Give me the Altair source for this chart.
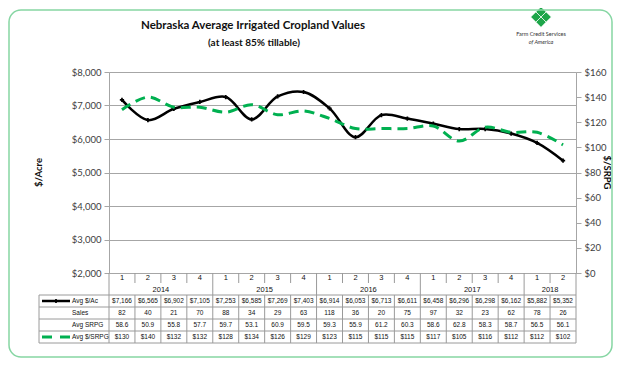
import altair as alt
import pandas as pd

# ---- data ----
years = [2014, 2014, 2014, 2014, 2015, 2015, 2015, 2015, 2016, 2016, 2016, 2016,
         2017, 2017, 2017, 2017, 2018, 2018]
quarters = [1, 2, 3, 4, 1, 2, 3, 4, 1, 2, 3, 4, 1, 2, 3, 4, 1, 2]
avg_ac = [7166, 6565, 6902, 7105, 7253, 6585, 7269, 7403, 6914, 6053, 6713, 6611,
          6458, 6296, 6298, 6162, 5882, 5352]
sales = [82, 40, 21, 70, 88, 34, 29, 63, 118, 36, 20, 75, 97, 32, 23, 62, 78, 26]
avg_srpg = [58.6, 50.9, 55.8, 57.7, 59.7, 53.1, 60.9, 59.5, 59.3, 55.9, 61.2, 60.3,
            58.6, 62.8, 58.3, 58.7, 56.5, 56.1]
per_srpg = [130, 140, 132, 132, 128, 134, 126, 129, 123, 115, 115, 115,
            117, 105, 116, 112, 112, 102]
left_ticks = [2000, 3000, 4000, 5000, 6000, 7000, 8000]
right_ticks = [0, 20, 40, 60, 80, 100, 120, 140, 160]
row_labels = ["Avg $/Ac", "Sales", "Avg SRPG", "Avg $/SRPG"]
title_text = "Nebraska Average Irrigated Cropland Values"
subtitle_text = "(at least 85% tillable)"

N = len(quarters)
W, H = 467, 201
GRID = "#a6a6a6"
TABLE = "#9a9a9a"
GREEN = "#00b050"
TFONT = "Liberation Sans"
AFONT = "Lato"

df = pd.DataFrame({
    "idx": list(range(N)), "year": years, "q": quarters, "avg_ac": avg_ac,
    "sales": sales, "avg_srpg": avg_srpg, "per_srpg": per_srpg,
})
one = pd.DataFrame({"k": [0]})

xscale = alt.Scale(domain=[0, N], nice=False, zero=False)
base = alt.Chart(df).transform_calculate(xc="datum.idx + 0.5")
X = alt.X("xc:Q", scale=xscale, axis=None)

left_axis = alt.Axis(
    values=left_ticks, format="$,.0f", grid=True, gridColor=GRID, gridWidth=1,
    domain=True, domainColor=GRID, ticks=True, tickColor=GRID, tickSize=5,
    labelPadding=3, labelFont=AFONT, labelFontSize=9.5, labelColor="#404040",
    title="$/Acre", titleX=-71, titleY=100, titleAngle=270, titleFont=AFONT,
    titleFontSize=9.5, titleFontWeight="bold", titleColor="#111",
    titleAlign="center", titleBaseline="middle")
right_axis = alt.Axis(
    orient="right", values=right_ticks, format="$,.0f", grid=False,
    domain=True, domainColor=GRID, ticks=True, tickColor=GRID, tickSize=5,
    labelPadding=3, labelFont=AFONT, labelFontSize=9.5, labelColor="#404040",
    title="$/SRPG", titleX=30, titleY=100, titleAngle=90, titleFont=AFONT,
    titleFontSize=9.5, titleFontWeight="bold", titleColor="#111",
    titleAlign="center", titleBaseline="middle")

yl = alt.Scale(domain=[2000, 8000], nice=False, zero=False)
yr = alt.Scale(domain=[0, 160], nice=False, zero=True)

line_ac = base.mark_line(color="black", strokeWidth=2.5, interpolate="catmull-rom").encode(
    x=X, y=alt.Y("avg_ac:Q", scale=yl, axis=left_axis))
pts_ac = base.mark_point(shape="cross", filled=True, size=18, color="black", opacity=1).encode(
    x=X, y=alt.Y("avg_ac:Q", scale=yl, axis=None))
line_sr = base.mark_line(color=GREEN, strokeWidth=3, strokeDash=[10, 6],
                         interpolate="catmull-rom").encode(
    x=X, y=alt.Y("per_srpg:Q", scale=yr, axis=right_axis))

layers = [line_ac, pts_ac, line_sr]

# ---- table under the plot ----
Y_TOP = 223
ROW_H = 12
row_y = [Y_TOP + ROW_H * i + ROW_H / 2 for i in range(4)]
LBL_X0 = -70

bounds = pd.DataFrame({"b": list(range(N + 1))})
bounds["yearb"] = [1 if (b == N or quarters[b] == 1) else 0 for b in range(N + 1)]

qticks = alt.Chart(bounds).transform_filter("datum.yearb == 0").mark_rule(
    color=TABLE, strokeWidth=1).encode(
    x=alt.X("b:Q", scale=xscale, axis=None), y=alt.value(H), y2=alt.value(H + 10))
yticks = alt.Chart(bounds).transform_filter("datum.yearb == 1").mark_rule(
    color=TABLE, strokeWidth=1).encode(
    x=alt.X("b:Q", scale=xscale, axis=None), y=alt.value(H), y2=alt.value(Y_TOP))
vlines = alt.Chart(bounds).mark_rule(color=TABLE, strokeWidth=1).encode(
    x=alt.X("b:Q", scale=xscale, axis=None), y=alt.value(Y_TOP),
    y2=alt.value(Y_TOP + 4 * ROW_H))
layers += [qticks, yticks, vlines]
layers.append(alt.Chart(one).mark_rule(color=TABLE, strokeWidth=1).encode(
    x=alt.value(LBL_X0), y=alt.value(Y_TOP), y2=alt.value(Y_TOP + 4 * ROW_H)))
for i in range(5):
    layers.append(alt.Chart(one).mark_rule(color=TABLE, strokeWidth=1).encode(
        x=alt.value(LBL_X0), x2=alt.value(W), y=alt.value(Y_TOP + ROW_H * i)))

qlab = base.mark_text(font=TFONT, fontSize=7.5, color="#111").encode(
    x=X, y=alt.value(206), text="q:N")
ylab = base.transform_aggregate(xm="mean(xc)", groupby=["year"]).mark_text(
    font=TFONT, fontSize=7.5, color="#111").encode(
    x=alt.X("xm:Q", scale=xscale, axis=None), y=alt.value(218), text="year:N")
layers += [qlab, ylab]

cells = [("avg_ac", "$,.0f"), ("sales", "d"), ("avg_srpg", ".1f"), ("per_srpg", "$,.0f")]
for (field, fmt), yy in zip(cells, row_y):
    layers.append(base.mark_text(font=TFONT, fontSize=6.5, color="#111").encode(
        x=X, y=alt.value(yy), text=alt.Text(f"{field}:Q", format=fmt)))

for lab, yy in zip(row_labels, row_y):
    layers.append(alt.Chart(pd.DataFrame({"t": [lab]})).mark_text(
        font=TFONT, fontSize=6.5, color="#111", align="left").encode(
        x=alt.value(-37), y=alt.value(yy), text="t:N"))

# legend keys in the label column
layers.append(alt.Chart(one).mark_rule(color="black", strokeWidth=2.5).encode(
    x=alt.value(-67), x2=alt.value(-39), y=alt.value(row_y[0])))
layers.append(alt.Chart(one).mark_point(shape="cross", filled=True, size=18,
                                        color="black", opacity=1).encode(
    x=alt.value(-53), y=alt.value(row_y[0])))
layers.append(alt.Chart(one).mark_rule(color=GREEN, strokeWidth=3, strokeDash=[10, 8]).encode(
    x=alt.value(-67), x2=alt.value(-39), y=alt.value(row_y[3])))

# ---- titles, logo, border ----
layers.append(alt.Chart(pd.DataFrame({"t": [title_text]})).mark_text(
    font=AFONT, fontSize=11.5, fontWeight="bold", color="#111").encode(
    x=alt.value(144), y=alt.value(-46), text="t:N"))
layers.append(alt.Chart(pd.DataFrame({"t": [subtitle_text]})).mark_text(
    font=AFONT, fontSize=10, fontWeight="bold", color="#111").encode(
    x=alt.value(145), y=alt.value(-29), text="t:N"))

clover = ("M0,-1L0.5,-0.5L0,0L-0.5,-0.5Z M1,0L0.5,0.5L0,0L0.5,-0.5Z "
          "M0,1L-0.5,0.5L0,0L0.5,0.5Z M-1,0L-0.5,-0.5L0,0L-0.5,0.5Z")
layers.append(alt.Chart(one).mark_point(shape=clover, filled=True, size=420,
                                        color="#1ea64a", opacity=1,
                                        stroke="white", strokeWidth=0.6).encode(
    x=alt.value(432), y=alt.value(-55)))
layers.append(alt.Chart(pd.DataFrame({"t": ["Farm Credit Services"]})).mark_text(
    font=AFONT, fontSize=5.5, color="#333").encode(
    x=alt.value(432), y=alt.value(-38), text="t:N"))
layers.append(alt.Chart(pd.DataFrame({"t": ["of America"]})).mark_text(
    font=AFONT, fontSize=5.5, fontStyle="italic", color="#333").encode(
    x=alt.value(432), y=alt.value(-30), text="t:N"))

layers.append(alt.Chart(one).mark_rect(fillOpacity=0, stroke="#86d6a3", strokeWidth=1.5,
                                       cornerRadius=12).encode(
    x=alt.value(-100), x2=alt.value(503), y=alt.value(-62), y2=alt.value(285)))

chart = alt.layer(*layers).resolve_scale(y="independent").properties(
    width=W, height=H,
    padding={"left": 101, "top": 64, "right": 38, "bottom": 87},
    autosize=alt.AutoSizeParams(type="none"),
).configure_view(fill="#d7e4bd", stroke=GRID, strokeWidth=1).configure(background="white")

chart.save("out.html", embed_options={"renderer": "svg", "actions": False})
